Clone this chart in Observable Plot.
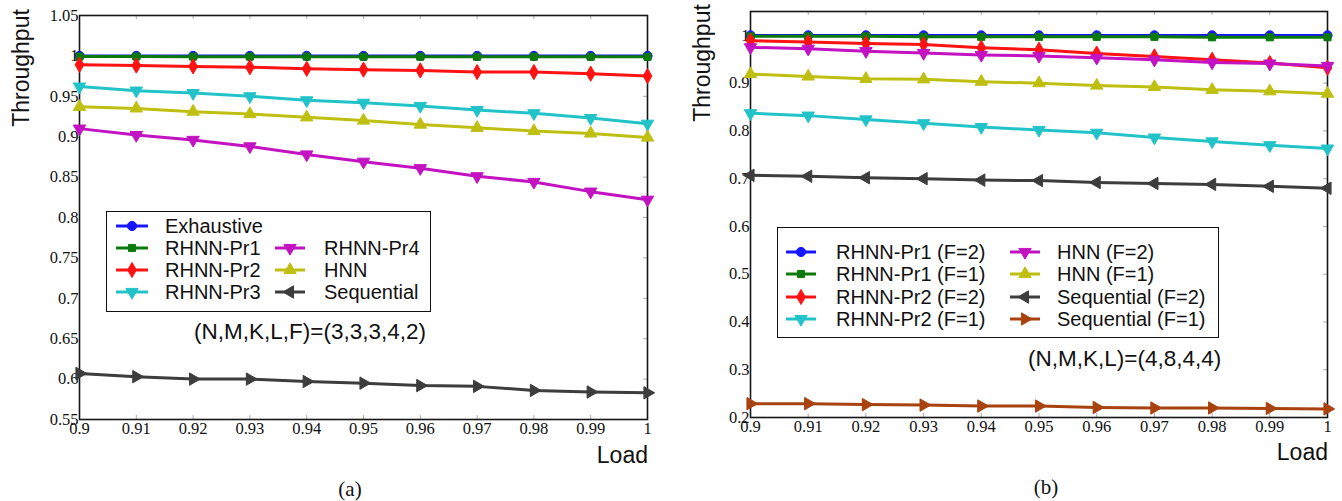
<!DOCTYPE html>
<html><head><meta charset="utf-8">
<script src="https://cdn.jsdelivr.net/npm/d3@7"></script>
<script src="https://cdn.jsdelivr.net/npm/@observablehq/plot@0.6"></script>
<style>
html,body{margin:0;padding:0;background:#fff;}
body{width:1342px;height:501px;position:relative;overflow:hidden;font-family:"Liberation Sans",Arial,sans-serif;color:#111;}
.panel{position:absolute;top:0;}
.panel svg text{font-family:"Liberation Serif",serif;font-size:16.5px;}
.abs{position:absolute;white-space:nowrap;}
.legend{position:absolute;border:1.5px solid #111;background:#fff;box-sizing:border-box;}
</style></head>
<body>
<div id="pa" class="panel" style="left:0px"></div>
<div id="pb" class="panel" style="left:671px"></div>
<script>
// ---------- data ----------
const load = [0.90, 0.91, 0.92, 0.93, 0.94, 0.95, 0.96, 0.97, 0.98, 0.99, 1.00];

// panel (a)
const exhaustive = [1, 1, 1, 1, 1, 1, 1, 1, 1, 1, 1];
const rhnnPr1    = [0.9992, 0.9992, 0.9991, 0.9991, 0.9991, 0.999, 0.999, 0.999, 0.999, 0.9989, 0.9989];
const rhnnPr2    = [0.989, 0.988, 0.987, 0.986, 0.984, 0.983, 0.982, 0.980, 0.980, 0.978, 0.975];
const rhnnPr3    = [0.962, 0.957, 0.954, 0.950, 0.945, 0.942, 0.938, 0.933, 0.929, 0.923, 0.916];
const rhnnPr4    = [0.910, 0.902, 0.896, 0.888, 0.878, 0.869, 0.861, 0.851, 0.844, 0.832, 0.822];
const hnn        = [0.937, 0.935, 0.931, 0.928, 0.924, 0.920, 0.915, 0.911, 0.907, 0.904, 0.899];
const sequential = [0.607, 0.603, 0.600, 0.600, 0.597, 0.595, 0.592, 0.591, 0.586, 0.584, 0.583];

// panel (b)
const pr1F2 = [1, 1, 1, 1, 1, 1, 1, 1, 1, 1, 1];
const pr1F1 = [0.998, 0.998, 0.998, 0.997, 0.997, 0.997, 0.997, 0.997, 0.996, 0.996, 0.996];
const pr2F2 = [0.989, 0.986, 0.983, 0.981, 0.974, 0.970, 0.962, 0.956, 0.949, 0.942, 0.932];
const pr2F1 = [0.837, 0.832, 0.824, 0.816, 0.808, 0.802, 0.796, 0.786, 0.778, 0.770, 0.763];
const hnnF2 = [0.975, 0.972, 0.967, 0.963, 0.959, 0.957, 0.953, 0.949, 0.943, 0.941, 0.936];
const hnnF1 = [0.919, 0.914, 0.909, 0.908, 0.903, 0.900, 0.895, 0.892, 0.886, 0.883, 0.878];
const seqF2 = [0.707, 0.705, 0.702, 0.700, 0.697, 0.696, 0.692, 0.690, 0.688, 0.684, 0.680];
const seqF1 = [0.229, 0.229, 0.227, 0.226, 0.224, 0.224, 0.221, 0.220, 0.220, 0.219, 0.218];

const xTicks  = load;
const yTicksA = [0.55, 0.6, 0.65, 0.7, 0.75, 0.8, 0.85, 0.9, 0.95, 1, 1.05];
const yTicksB = [0.2, 0.3, 0.4, 0.5, 0.6, 0.7, 0.8, 0.9, 1];

const labelsA = ["Exhaustive", "RHNN-Pr1", "RHNN-Pr2", "RHNN-Pr3", "RHNN-Pr4", "HNN", "Sequential"];
const labelsB = ["RHNN-Pr1 (F=2)", "RHNN-Pr1 (F=1)", "RHNN-Pr2 (F=2)", "RHNN-Pr2 (F=1)", "HNN (F=2)", "HNN (F=1)", "Sequential (F=2)", "Sequential (F=1)"];

// ---------- styling ----------
const C = {blue:"#1616ff", green:"#0b7a0b", red:"#ff1212", cyan:"#22c3c8", magenta:"#c212c2", yellow:"#bfbf12", grey:"#3d3d3d", brown:"#a8420e"};

const seriesA = [
  {label:labelsA[0], y:exhaustive, color:C.blue,    sym:"circle",   rot:0,   lrot:0,   row:0, col:0},
  {label:labelsA[1], y:rhnnPr1,    color:C.green,   sym:"square",   rot:0,   lrot:0,   row:1, col:0},
  {label:labelsA[2], y:rhnnPr2,    color:C.red,     sym:"diamond",  rot:0,   lrot:0,   row:2, col:0},
  {label:labelsA[3], y:rhnnPr3,    color:C.cyan,    sym:"triangle", rot:180, lrot:180, row:3, col:0},
  {label:labelsA[4], y:rhnnPr4,    color:C.magenta, sym:"triangle", rot:180, lrot:180, row:1, col:1},
  {label:labelsA[5], y:hnn,        color:C.yellow,  sym:"triangle", rot:0,   lrot:0,   row:2, col:1},
  {label:labelsA[6], y:sequential, color:C.grey,    sym:"triangle", rot:90,  lrot:-90, row:3, col:1}
];
const seriesB = [
  {label:labelsB[0], y:pr1F2, color:C.blue,    sym:"circle",   rot:0,   lrot:0,   row:0, col:0},
  {label:labelsB[1], y:pr1F1, color:C.green,   sym:"square",   rot:0,   lrot:0,   row:1, col:0},
  {label:labelsB[2], y:pr2F2, color:C.red,     sym:"diamond",  rot:0,   lrot:0,   row:2, col:0},
  {label:labelsB[3], y:pr2F1, color:C.cyan,    sym:"triangle", rot:180, lrot:180, row:3, col:0},
  {label:labelsB[4], y:hnnF2, color:C.magenta, sym:"triangle", rot:180, lrot:180, row:0, col:1},
  {label:labelsB[5], y:hnnF1, color:C.yellow,  sym:"triangle", rot:0,   lrot:0,   row:1, col:1},
  {label:labelsB[6], y:seqF2, color:C.grey,    sym:"triangle", rot:-90, lrot:-90, row:2, col:1},
  {label:labelsB[7], y:seqF1, color:C.brown,   sym:"triangle", rot:90,  lrot:90,  row:3, col:1}
];

const fmt = d3.format("~g");

function makePanel(series, yDomain, yTicks, m, w) {
  const h = 501;
  const xDomain = [0.9, 1];
  const ex = (xDomain[1]-xDomain[0]) * 4 / (w - m.l - m.r);
  const ey = (yDomain[1]-yDomain[0]) * 4 / (h - m.t - m.b);
  const marks = [
    Plot.ruleX(xTicks, {x: d => d, y1: yDomain[0], y2: yDomain[0] + ey, stroke: "#aaa", strokeWidth: 1}),
    Plot.ruleX(xTicks, {x: d => d, y1: yDomain[1], y2: yDomain[1] - ey, stroke: "#aaa", strokeWidth: 1}),
    Plot.ruleY(yTicks, {y: d => d, x1: xDomain[1], x2: xDomain[1] - ex, stroke: "#aaa", strokeWidth: 1}),
    Plot.frame({stroke: "#151515", strokeWidth: 1.6}),
    Plot.axisX(xTicks, {anchor: "bottom", tickSize: 0, tickPadding: 3, tickFormat: fmt, label: null,
      fontSize: 16.5, fontFamily: "Liberation Serif", fill: "#111"}),
    Plot.axisY(yTicks, {anchor: "left", tickSize: 0, tickPadding: 1, tickFormat: fmt, label: null,
      fontSize: 16.5, fontFamily: "Liberation Serif", fill: "#111"})
  ];
  for (const s of series) {
    const data = load.map((x, i) => ({x, y: s.y[i]}));
    marks.push(Plot.line(data, {x: "x", y: "y", stroke: s.color, strokeWidth: 3}));
    marks.push(Plot.dot(data, {x: "x", y: "y", symbol: s.sym, fill: s.color, stroke: s.color, strokeWidth: 1,
      r: s.sym === "square" ? 4 : 4.6, rotate: s.rot}));
  }
  return Plot.plot({
    width: w, height: h,
    marginLeft: m.l, marginRight: m.r, marginTop: m.t, marginBottom: m.b,
    x: {domain: xDomain}, y: {domain: yDomain},
    style: {background: "transparent", overflow: "visible", fontSize: "16.5px", fontFamily: "Liberation Serif"},
    marks
  });
}

document.getElementById("pa").append(makePanel(seriesA, [0.55, 1.05], yTicksA, {l:79, r:23, t:15, b:82}, 670));
document.getElementById("pb").append(makePanel(seriesB, [0.2, 1.05], yTicksB, {l:79, r:15, t:11, b:84}, 671));

// ---------- text & legends ----------
function addText(txt, x, y, opts = {}) {
  const d = document.createElement("div");
  d.className = "abs";
  d.textContent = txt;
  d.style.fontSize = (opts.size || 22) + "px";
  d.style.fontFamily = opts.font || '"Liberation Sans", Arial, sans-serif';
  d.style.lineHeight = "1";
  d.style.left = x + "px";
  d.style.top = y + "px";
  let tf = "translate(" + (opts.ax ?? 0) * -100 + "%, -50%)";
  if (opts.rotate) tf += " rotate(" + opts.rotate + "deg)";
  d.style.transform = tf;
  document.body.append(d);
  return d;
}
addText("Throughput", 21, 68, {size: 23, ax: 0.5, rotate: -90});
addText("Throughput", 702, 63, {size: 23, ax: 0.5, rotate: -90});
addText("Load", 648, 455, {size: 23, ax: 1});
addText("Load", 1328, 452, {size: 23, ax: 1});
addText("(a)", 350, 489, {size: 21, ax: 0.5, font: '"Liberation Serif", serif'});
addText("(b)", 1046, 487, {size: 21, ax: 0.5, font: '"Liberation Serif", serif'});
addText("(N,M,K,L,F)=(3,3,3,4,2)", 194, 332, {size: 22.5});
addText("(N,M,K,L)=(4,8,4,4)", 1028, 359, {size: 22.5});

const symMap = {circle: d3.symbolCircle, square: d3.symbolSquare, diamond: d3.symbolDiamond, triangle: d3.symbolTriangle};
function addLegend(series, box, rows, cols) {
  const b = document.createElement("div");
  b.className = "legend";
  Object.assign(b.style, {left: box.x + "px", top: box.y + "px", width: box.w + "px", height: box.h + "px"});
  document.body.append(b);
  for (const s of series) {
    const cy = rows[s.row], c = cols[s.col];
    const svg = d3.create("svg").attr("width", 40).attr("height", 20)
      .style("position", "absolute").style("left", (c.m - 20) + "px").style("top", (cy - 10) + "px");
    svg.append("line").attr("x1", 20 - c.half).attr("x2", 20 + c.half).attr("y1", 10).attr("y2", 10)
      .attr("stroke", s.color).attr("stroke-width", 3);
    const r = s.sym === "square" ? 4 : 4.6;
    svg.append("path").attr("d", d3.symbol(symMap[s.sym], Math.PI * r * r)())
      .attr("transform", `translate(20,10) rotate(${s.lrot})`)
      .attr("fill", s.color).attr("stroke", s.color);
    document.body.append(svg.node());
    addText(s.label, c.t, cy, {size: 20});
  }
}
addLegend(seriesA, {x:106, y:211, w:325, h:101}, [226, 248, 270, 292],
  [{m:132, half:16, t:165}, {m:290, half:15, t:324}]);
addLegend(seriesB, {x:777, y:227, w:442, h:111}, [252, 274, 296.5, 319],
  [{m:801, half:15, t:836}, {m:1025, half:15, t:1057}]);
</script>
</body></html>
